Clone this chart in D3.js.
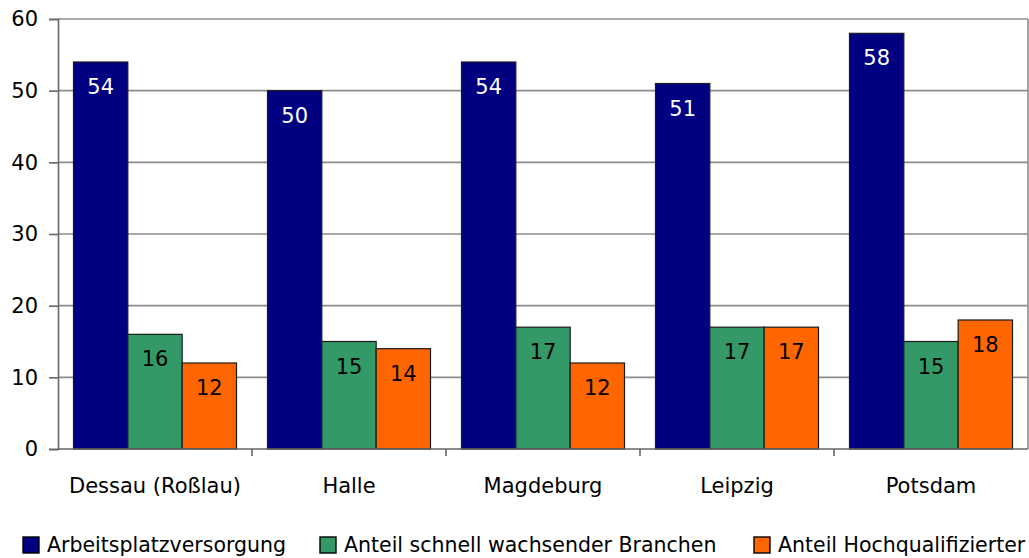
<!DOCTYPE html>
<html>
<head>
<meta charset="utf-8">
<script src="https://cdn.jsdelivr.net/npm/d3@7"></script>
<style>
  html, body { margin: 0; padding: 0; background: #fff; }
  svg { display: block; }
  text { font-family: "DejaVu Sans", Verdana, sans-serif; fill: #000; }
</style>
</head>
<body>
<svg id="chart" width="1029" height="558"></svg>
<script>
// Cities and the three indicators per city
const categories = ["Dessau (Roßlau)", "Halle", "Magdeburg", "Leipzig", "Potsdam"];
const seriesNames = ["Arbeitsplatzversorgung", "Anteil schnell wachsender Branchen", "Anteil Hochqualifizierter"];
const arbeitsplatz = [54, 50, 54, 51, 58];
const schnellWachsend = [16, 15, 17, 17, 15];
const hochqualifiziert = [12, 14, 12, 17, 18];
const yTicks = [0, 10, 20, 30, 40, 50, 60];
const colors = ["#000080", "#339966", "#ff6600"];
const labelColors = ["#ffffff", "#000000", "#000000"];

const series = [arbeitsplatz, schnellWachsend, hochqualifiziert];

const svg = d3.select("#chart");
const plot = { left: 58, right: 1028, top: 19, bottom: 449 };

const x0 = d3.scaleBand()
  .domain(categories)
  .range([plot.left, plot.right])
  .paddingInner(0)
  .paddingOuter(0);

const x1 = d3.scaleBand()
  .domain(d3.range(series.length))
  .range([0, x0.bandwidth()])
  .paddingOuter(0.285)
  .paddingInner(0);

const y = d3.scaleLinear()
  .domain([0, 60])
  .range([plot.bottom, plot.top]);

// Horizontal gridlines
svg.append("g")
  .selectAll("line")
  .data(yTicks.filter(t => t > 0))
  .join("line")
  .attr("x1", plot.left)
  .attr("x2", plot.right)
  .attr("y1", d => y(d))
  .attr("y2", d => y(d))
  .attr("stroke", "#8c8c8c")
  .attr("stroke-width", 1.6);

// Right border of plot area
svg.append("line")
  .attr("x1", plot.right).attr("x2", plot.right)
  .attr("y1", plot.top).attr("y2", plot.bottom)
  .attr("stroke", "#8c8c8c").attr("stroke-width", 1.6);

// Bars
const groups = svg.append("g")
  .selectAll("g")
  .data(categories)
  .join("g")
  .attr("transform", d => `translate(${x0(d)},0)`);

groups.selectAll("rect")
  .data((d, i) => series.map((s, k) => ({ k, v: s[i] })))
  .join("rect")
  .attr("x", d => x1(d.k))
  .attr("width", x1.bandwidth())
  .attr("y", d => y(d.v))
  .attr("height", d => y(0) - y(d.v))
  .attr("fill", d => colors[d.k])
  .attr("stroke", "#1a1a1a")
  .attr("stroke-width", 1.2);

groups.selectAll("text.val")
  .data((d, i) => series.map((s, k) => ({ k, v: s[i] })))
  .join("text")
  .attr("class", "val")
  .attr("x", d => x1(d.k) + x1.bandwidth() / 2)
  .attr("y", d => y(d.v) + 26)
  .attr("text-anchor", "middle")
  .attr("dominant-baseline", "middle")
  .attr("font-size", 21)
  .style("fill", d => labelColors[d.k])
  .text(d => d.v);

// Y axis
const yAxis = d3.axisLeft(y).tickValues(yTicks).tickSize(9).tickPadding(11);
const gy = svg.append("g")
  .attr("transform", `translate(${plot.left},0)`)
  .call(yAxis);
gy.select(".domain").attr("stroke", "#666").attr("stroke-width", 1.6);
gy.selectAll(".tick line").attr("stroke", "#666").attr("stroke-width", 1.6);
gy.selectAll(".tick text").attr("font-size", 21).attr("font-family", "DejaVu Sans, Verdana, sans-serif").style("fill", "#000");

// X axis with ticks between categories
const gx = svg.append("g")
  .attr("transform", `translate(0,${plot.bottom})`);
gx.append("line")
  .attr("x1", plot.left).attr("x2", plot.right)
  .attr("stroke", "#666").attr("stroke-width", 1.6);
gx.selectAll("line.sep")
  .data(categories.slice(1))
  .join("line")
  .attr("class", "sep")
  .attr("x1", d => x0(d)).attr("x2", d => x0(d))
  .attr("y1", 0).attr("y2", 7)
  .attr("stroke", "#666").attr("stroke-width", 1.6);
gx.selectAll("text")
  .data(categories)
  .join("text")
  .attr("x", d => x0(d) + x0.bandwidth() / 2)
  .attr("y", 38)
  .attr("text-anchor", "middle")
  .attr("dominant-baseline", "middle")
  .attr("font-size", 21)
  .text(d => d);

// Legend
const legendX = [23, 320, 754];
const legend = svg.append("g")
  .selectAll("g")
  .data(seriesNames)
  .join("g")
  .attr("transform", (d, i) => `translate(${legendX[i]},537)`);
legend.append("rect")
  .attr("width", 16).attr("height", 16)
  .attr("fill", (d, i) => colors[i])
  .attr("stroke", "#000").attr("stroke-width", 1.4);
legend.append("text")
  .attr("x", 24)
  .attr("y", 9)
  .attr("dominant-baseline", "middle")
  .attr("font-size", 20.5)
  .text(d => d);
</script>
</body>
</html>
